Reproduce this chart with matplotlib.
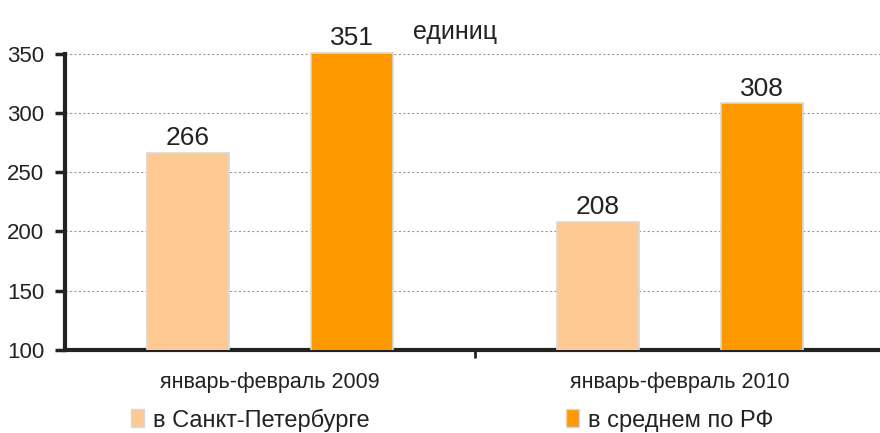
import matplotlib
matplotlib.use("Agg")
import matplotlib.pyplot as plt
import numpy as np
from matplotlib.patches import Patch

plt.rcParams['font.family'] = ['Liberation Sans', 'DejaVu Sans']

categories = ["январь-февраль 2009", "январь-февраль 2010"]
series_names = ["в Санкт-Петербурге", "в среднем по РФ"]
spb_values = [266, 208]
rf_values = [351, 308]
y_ticks = [100, 150, 200, 250, 300, 350]
unit_label = "единиц"

colors = ["#FFC994", "#FF9900"]

fig = plt.figure(figsize=(8.8, 4.33), dpi=100)
ax = fig.add_axes([65/880, 83/433, 820/880, 320/433])

x = np.arange(len(categories))
w = 0.2
bars1 = ax.bar(x - 0.2, spb_values, width=w, color=colors[0],
               edgecolor="#D8D8D8", linewidth=1.2, zorder=3)
bars2 = ax.bar(x + 0.2, rf_values, width=w, color=colors[1],
               edgecolor="#D8D8D8", linewidth=1.2, zorder=3)

for bars, vals in ((bars1, spb_values), (bars2, rf_values)):
    for b, v in zip(bars, vals):
        ax.annotate(str(v), (b.get_x() + b.get_width()/2, v), xytext=(0, 2),
                    textcoords="offset points", ha="center", va="bottom",
                    fontsize=19, color="#222222")

ax.set_ylim(100, 370)
ax.set_xlim(-0.5, 1.5)
ax.set_yticks(y_ticks)
ax.set_yticklabels([str(t) for t in y_ticks], fontsize=16, color="#222222")
ax.yaxis.grid(True, linestyle=(0, (2, 2)), color="#9A9A9A", linewidth=0.8, zorder=0)

ax.set_xticks([0.5])
ax.set_xticklabels([""])
ax.set_xticks(x, minor=True)
ax.set_xticklabels(categories, minor=True, fontsize=15.5, color="#222222")
ax.tick_params(axis='x', which='minor', length=0, pad=16)
ax.tick_params(axis='x', which='major', length=6, width=2, direction='out', color="#222222")
ax.tick_params(axis='y', length=7, width=2.5, direction='out', color="#222222", pad=8)

for s in ("top", "right"):
    ax.spines[s].set_visible(False)
ax.spines["left"].set_linewidth(3)
ax.spines["bottom"].set_linewidth(3)
ax.spines["left"].set_color("#222222")
ax.spines["bottom"].set_color("#222222")
ax.spines["left"].set_bounds(100, 350)

fig.text(455/880, 1 - 32/433, unit_label, ha="center", va="center", fontsize=18, color="#222222")

handles = [Patch(facecolor=c, edgecolor="#D8D8D8") for c in colors]
fig.legend(handles, series_names, loc="center left", bbox_to_anchor=(131/880, 1 - 420/433),
           ncol=2, frameon=False, fontsize=17, handlelength=0.55, handleheight=0.8,
           handletextpad=0.4, columnspacing=8.3, borderaxespad=0, borderpad=0,
           labelcolor="#222222")

fig.savefig("out.png", dpi=100)
